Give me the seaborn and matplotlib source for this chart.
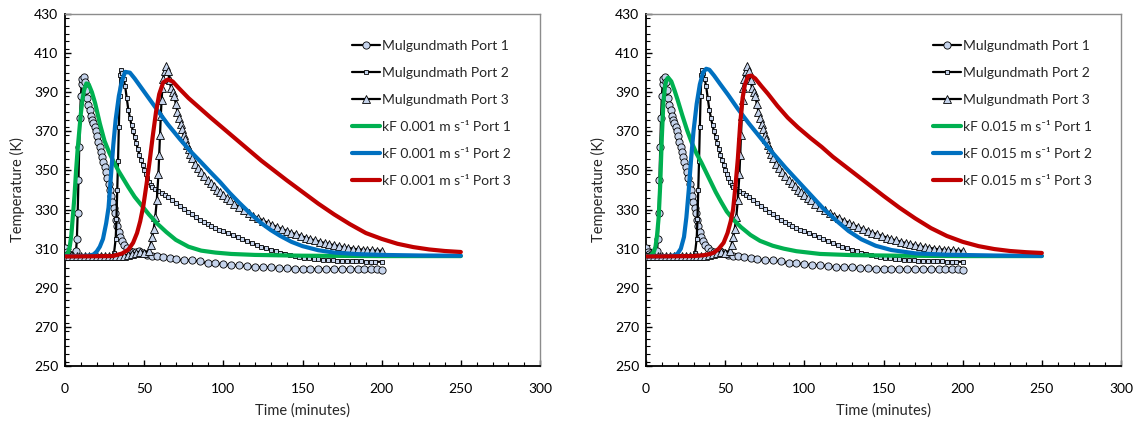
import matplotlib
matplotlib.use('Agg')
import matplotlib.pyplot as plt
import seaborn as sns
import pandas as pd
from matplotlib.ticker import MultipleLocator

sns.set_style('ticks')
plt.rcParams['font.family'] = ['Lato', 'DejaVu Sans']

# ---------------- experimental data (Mulgundmath) ----------------
port1_t = [0, 1, 2, 3, 4, 5, 6, 7, 7.5, 8, 8.5, 9, 9.5, 10, 10.5, 11, 11.7, 12.5, 13.2, 14,
           14.7, 15.5, 16.3, 17.1, 17.9, 18.7, 19.5, 20.3, 21.1, 21.9, 22.7, 23.5, 24.3, 25.1,
           25.9, 26.7, 27.5, 28.3, 29.1, 29.9, 30.7, 31.5, 32.3, 33.1, 34, 35, 36, 37.5, 39,
           41, 43, 45, 47, 49, 52, 55, 58, 62, 66, 70, 75, 80, 85, 90, 95, 100, 105, 110, 115,
           120, 125, 130, 135, 140, 145, 150, 155, 160, 165, 170, 175, 180, 185, 189, 193, 197, 200]
port1_T = [310.5, 308.5, 307.5, 307, 307, 307, 307.5, 309, 315, 328, 345, 362, 377, 388, 394,
           397, 397.8, 395, 391, 387, 383.5, 381, 378, 376, 374.5, 372, 370, 367.5, 364.5, 362,
           359.5, 357, 354.5, 352, 349, 346, 343, 340, 337, 334, 331, 328, 324.5, 321.5, 318.5,
           316, 314, 312, 310.5, 309, 308.5, 308.5, 309, 308, 307, 306.5, 306, 305.5, 305,
           304.5, 304, 304, 303.5, 302.5, 302.5, 302, 301.5, 301.5, 301, 300.5, 300.5, 300.5,
           300, 300, 299.5, 299.5, 299.5, 299.5, 299.5, 299.5, 299.5, 299.5, 299.5, 299.5,
           299.5, 299.5, 299]

port2_t = [0, 2, 4, 6, 8, 10, 12, 14, 16, 18, 20, 22, 24, 26, 28, 30, 31, 32, 32.5, 33, 33.5,
           34, 34.5, 35, 35.5, 36, 37, 38, 39, 40, 41, 42, 43, 44, 45, 46, 47, 48, 49, 50, 51,
           52, 53, 54, 55, 57, 59, 61, 63, 65, 67.5, 70, 72.5, 75, 77.5, 80, 82.5, 85, 87.5, 90,
           92.5, 95, 97.5, 100, 103, 106, 109, 112, 115, 118, 121, 124, 127, 130, 133, 136, 139,
           142, 145, 148, 151, 154, 157, 160, 163, 166, 169, 172, 175, 178, 181, 184, 187, 190,
           193, 196, 200]
port2_T = [307, 306.5, 306.5, 306.5, 306.5, 306.5, 306.5, 306.5, 306.5, 306.5, 306.5, 306.5,
           306.5, 306.5, 306.5, 306.5, 308, 315, 325, 340, 355, 372, 388, 399, 401.5, 400, 397,
           393, 387, 381, 377, 373, 370, 367, 364, 361, 358, 355.5, 353, 350, 348, 346, 344,
           342.5, 341.5, 340.5, 339.5, 338.5, 337.5, 336.5, 335, 333.5, 332, 330.5, 329, 327.5,
           326, 324.5, 323.5, 322.5, 321.5, 320.5, 319.5, 318.8, 317.8, 316.8, 315.8, 314.8,
           313.8, 312.8, 311.8, 311, 310.2, 309.5, 308.8, 308, 307.4, 306.8, 306.2, 305.8,
           305.4, 305, 304.8, 304.5, 304.3, 304.1, 304, 303.9, 303.8, 303.7, 303.6, 303.5,
           303.5, 303.4, 303.4, 303.3, 303.3]

port3_t = [0, 2.5, 5, 7.5, 10, 12.5, 15, 17.5, 20, 22.5, 25, 27.5, 30, 32.5, 35, 37.5, 40,
           42.5, 45, 47.5, 50, 53, 54, 55, 56, 57, 58, 59, 59.5, 60, 60.5, 61, 61.5, 62, 63, 64,
           65, 66, 67, 68, 69, 70, 71, 72, 73, 74, 75, 76, 77, 78, 79, 80, 82, 84, 86, 88, 90,
           92, 94, 96, 98, 100, 102, 104, 107, 110, 113, 116, 119, 122, 125, 128, 131, 134, 137,
           140, 143, 146, 149, 152, 155, 158, 161, 164, 167, 170, 173, 176, 179, 182, 185, 188,
           191, 194, 197, 200]
port3_T = [306.5, 306.5, 306.5, 306.5, 306.5, 306.5, 306.5, 306.5, 306.5, 306.5, 306.5, 306.5,
           306.5, 306.5, 306.5, 306.5, 307, 307.5, 308, 308.5, 308, 309, 312, 316, 320, 326, 335,
           348, 358, 368, 378, 386, 392, 397, 401, 403.5, 401, 396, 392, 390, 388, 384, 380,
           377, 374, 371, 368, 366, 363, 361, 358.5, 356.5, 353.5, 351, 349, 347, 345.2, 343.4,
           341.8, 340.2, 338.8, 337.4, 336, 334.7, 332.9, 331.3, 329.8, 328.3, 326.9, 325.6,
           324.4, 323.2, 322.1, 321, 320, 319.1, 318.2, 317.3, 316.5, 315.7, 314.9, 314.2,
           313.5, 312.9, 312.3, 311.8, 311.3, 310.8, 310.4, 310, 309.7, 309.5, 309.3, 309.1,
           309, 308.9]

# ---------------- model data, kF 0.001 m/s ----------------
a_g_t = [0, 2, 3, 4, 5, 6, 7, 8, 9, 10, 11, 12, 13.5, 15, 17, 19, 22, 25, 28, 31, 34, 37, 40,
         44, 48, 53, 58, 64, 70, 78, 86, 95, 105, 120, 150, 200, 250]
a_g_T = [306.2, 308, 311, 317, 327, 337, 350, 361, 370, 379, 386, 391, 394.5, 394, 390, 384.5,
         374, 365, 359, 354, 349.5, 345.5, 341.5, 336.5, 332.5, 327.5, 323, 318.5, 314.5, 311,
         309, 308, 307.3, 306.8, 306.4, 306.2, 306.2]

a_b_t = [0, 10, 15, 18, 20, 22, 24, 26, 27.5, 29, 30.5, 32, 34, 36, 38, 41, 44, 48, 52, 56, 60,
         65, 72.6, 79, 85, 92, 98, 104, 110, 117, 124, 130, 136, 143, 150, 160, 170, 185, 200,
         225, 250]
a_b_T = [306.2, 306.2, 306.4, 307, 308.5, 311, 315, 323, 331, 347, 363, 376, 388, 396, 400.4,
         400, 397, 392.5, 388, 383.5, 379, 373.5, 366, 360, 355, 349, 344, 338.5, 333.5,
         328, 323, 319.5, 316.5, 313.5, 311.3, 309.2, 308, 307.2, 306.8, 306.5, 306.4]

a_r_t = [0, 30, 36, 40, 43, 45.5, 47.5, 49.5, 51.5, 53.5, 55.5, 57.5, 59.5, 62, 65, 68, 72, 78,
         85, 92, 100, 108, 116, 124, 132, 140, 150, 160, 170, 180, 190, 200, 210, 220, 230,
         240, 250]
a_r_T = [306, 306.2, 307.5, 309.5, 313, 318, 324, 332, 343, 355, 368, 380, 389, 395, 396.5,
         395.5, 392, 387, 382, 377, 371.5, 366, 360.5, 355, 350, 345, 339, 333, 327.5, 322.5,
         318, 315, 312.5, 310.8, 309.6, 308.8, 308.3]

# ---------------- model data, kF 0.015 m/s ----------------
b_g_t = [0, 3, 5, 6, 7, 8, 9, 10, 11, 12, 13, 14, 16, 18, 20, 23, 26, 29, 32, 35, 38, 41, 44,
         47.4, 51, 55, 60, 66, 72, 80, 87, 95, 110, 130, 160, 200, 250]
b_g_T = [306, 306.5, 308.5, 311, 317, 326, 343, 367, 385, 393, 396.5, 397.5, 395.5, 391, 386,
         378, 370.5, 364, 358.5, 354, 349, 344, 339, 334, 329, 325, 321, 317, 314, 311.5, 310,
         308.7, 307.3, 306.7, 306.4, 306.2, 306.2]

b_b_t = [0, 15, 18, 20, 22, 24, 25.5, 27, 28.5, 30, 32, 34, 36, 38, 40, 43, 47, 52, 58, 65,
         72, 80, 88, 96, 104, 112, 120, 128, 136, 145, 155, 170, 190, 220, 250]
b_b_T = [306, 306.2, 306.5, 307.5, 310, 316, 326, 340, 356, 370, 384, 394, 400, 402, 401.5,
         398.5, 394, 388.5, 381.5, 374, 367, 359, 351.5, 344.5, 337.5, 330.5, 324.5, 319,
         314.8, 311.5, 309.3, 307.6, 306.9, 306.5, 306.3]

b_r_t = [0, 30, 36, 40, 43, 46, 49, 51.5, 53.5, 55, 56.5, 58, 59.5, 61, 62.5, 64.5, 66.5, 69,
         73, 77, 83, 89.5, 96, 104, 111, 118, 126, 134, 142, 150, 160, 170, 180, 190, 200,
         210, 220, 230, 240, 250]
b_r_T = [306, 306.2, 306.6, 307.2, 308, 310, 313, 318, 324, 330, 342, 356, 374, 387, 394,
         398.2, 398.5, 397, 393, 389.2, 383, 377, 372, 366.5, 362, 357, 352, 347, 342, 337,
         331, 325.5, 320.5, 316.5, 313.5, 311.3, 309.8, 308.8, 308.2, 307.8]

exp_labels = ['Mulgundmath Port 1', 'Mulgundmath Port 2', 'Mulgundmath Port 3']
model_colors = ['#00b050', '#0070c0', '#c00000']
x_ticks = [0, 50, 100, 150, 200, 250, 300]
y_ticks = [250, 270, 290, 310, 330, 350, 370, 390, 410, 430]

fill = '#c6d4ec'
W, H = 1139, 421
fig = plt.figure(figsize=(W / 100, H / 100), dpi=100)
axL = fig.add_axes([65 / W, 1 - 366 / H, 475 / W, 352 / H])
axR = fig.add_axes([646 / W, 1 - 366 / H, 475 / W, 352 / H])


def draw(ax, models, kf):
    exps = [(port1_t, port1_T, 'o', 5.2), (port2_t, port2_T, 's', 3.4), (port3_t, port3_T, '^', 5.8)]
    for (t, T, m, ms), lab in zip(exps, exp_labels):
        sns.lineplot(x=t, y=T, ax=ax, color='black', lw=1.6, marker=m, markersize=ms,
                     markerfacecolor=fill, markeredgecolor='black', markeredgewidth=0.6,
                     label=lab, sort=False, estimator=None, zorder=3)
    for i, ((t, T), c) in enumerate(zip(models, model_colors)):
        sns.lineplot(x=t, y=T, ax=ax, color=c, lw=3.0, label=f'kF {kf} m s\u207b\u00b9 Port {i + 1}',
                     sort=False, estimator=None, zorder=4)
    ax.set_xlim(0, 300)
    ax.set_ylim(250, 430)
    ax.set_xticks(x_ticks)
    ax.set_yticks(y_ticks)
    ax.xaxis.set_minor_locator(MultipleLocator(10))
    ax.yaxis.set_minor_locator(MultipleLocator(4))
    ax.tick_params(which='both', direction='in', top=False, right=False, colors='black',
                   labelsize=10)
    ax.tick_params(axis='x', which='major', pad=12)
    ax.tick_params(axis='y', which='major', pad=5)
    ax.tick_params(which='major', length=4, width=1)
    ax.tick_params(which='minor', length=3, width=0.8)
    ax.set_xlabel('Time (minutes)', fontsize=10.5, labelpad=6)
    ax.set_ylabel('Temperature (K)', fontsize=10.5, labelpad=6)
    for s in ['left', 'bottom']:
        ax.spines[s].set_color('black')
        ax.spines[s].set_linewidth(1.3)
    for s in ['top', 'right']:
        ax.spines[s].set_color('#8c8c8c')
        ax.spines[s].set_linewidth(1.0)
    ax.legend(loc='upper left', bbox_to_anchor=(0.604, 0.927), frameon=False,
              fontsize=10, handlelength=2.0, handletextpad=0.15, labelspacing=1.08,
              borderpad=0, borderaxespad=0)


draw(axL, [(a_g_t, a_g_T), (a_b_t, a_b_T), (a_r_t, a_r_T)], '0.001')
draw(axR, [(b_g_t, b_g_T), (b_b_t, b_b_T), (b_r_t, b_r_T)], '0.015')

fig.savefig('out.png', dpi=100)
